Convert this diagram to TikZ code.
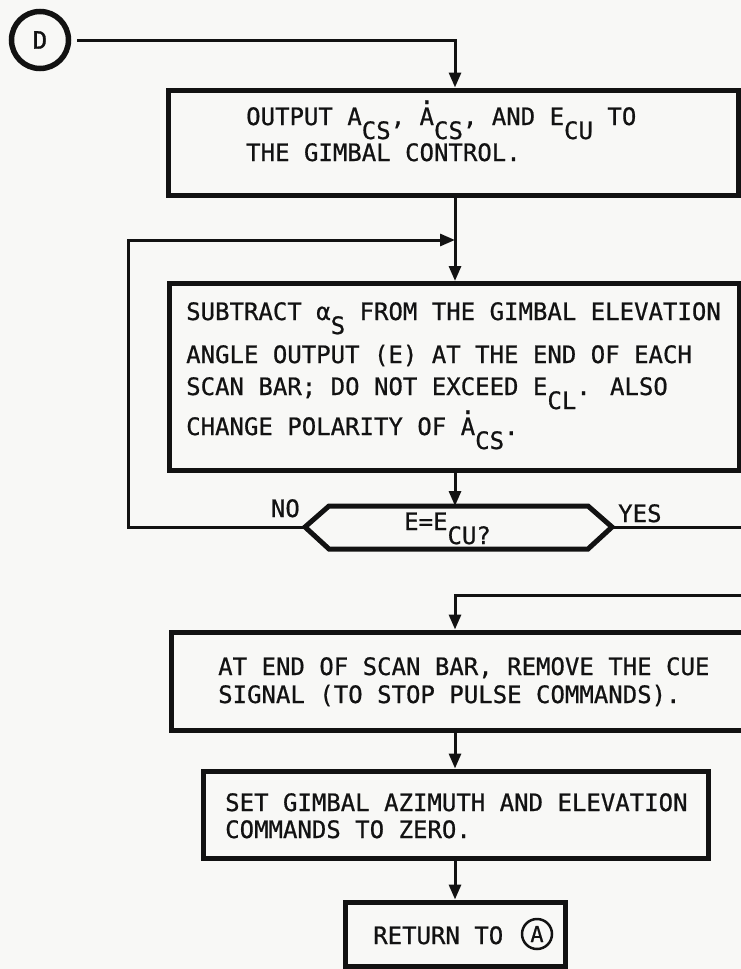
\documentclass[tikz,border=0pt]{standalone}
\usepackage{fontspec}
\newfontfamily\tw[FakeBold=0.7]{DejaVu Sans Mono}
\newfontfamily\twb[FakeBold=1.5]{DejaVu Sans Mono}
\usetikzlibrary{arrows.meta}
\definecolor{paper}{RGB}{248,248,246}
\definecolor{ink}{RGB}{18,18,18}
\newcommand\lo[1]{\raisebox{-14pt}{\smash{#1}}}
\newcommand\dotA{\rlap{\smash{\raisebox{21pt}{.}}}A}
\begin{document}
\begin{tikzpicture}[x=1pt,y=-1pt,
  boxline/.style={draw=ink, line width=5pt, inner sep=0pt},
  conn/.style={draw=ink, line width=3pt},
  arr/.style={conn, -{Triangle[length=15pt,width=12pt]}},
  txt/.style={anchor=base west, inner sep=0pt, text=ink,
    font=\tw\fontsize{24}{28}\selectfont},
  ring/.style={draw=ink, circle, inner sep=0pt, text=ink}]
\fill[paper] (0,0) rectangle (741,969);
\useasboundingbox (0,0) rectangle (741,969);
\coordinate (spine) at (455,0);
% connector D
\node[ring, line width=5.5pt, minimum size=57pt,
  font=\twb\fontsize{24}{26}\selectfont] (D) at (40,40) {D};
% boxes
\node[boxline, minimum width=570pt, minimum height=105pt] (b1) at (453,142.5) {};
\node[boxline, minimum width=570pt, minimum height=187pt] (b2) at (454,377) {};
\node[boxline, minimum width=579pt, minimum height=98pt] (b3) at (460.5,681) {};
\node[boxline, minimum width=505pt, minimum height=87pt] (b4) at (455.5,814.5) {};
\node[boxline, minimum width=220pt, minimum height=64pt] (b5) at (455,934) {};
% texts
\node[txt] (t11) at (246,125) {OUTPUT A\lo{CS}, \dotA\lo{CS}, AND E\lo{CU} TO};
\node[txt] (t12) at (246,161) {THE GIMBAL CONTROL.};
\node[txt] (t21) at (186,320) {SUBTRACT α\lo{S} FROM THE GIMBAL ELEVATION};
\node[txt] (t22) at (186,363) {ANGLE OUTPUT (E) AT THE END OF EACH};
\node[txt] (t23) at (186,395) {SCAN BAR; DO NOT EXCEED E\lo{CL}. ALSO};
\node[txt] (t24) at (186,435) {CHANGE POLARITY OF \dotA\lo{CS}.};
\node[txt] (t31) at (218,675) {AT END OF SCAN BAR, REMOVE THE CUE};
\node[txt] (t32) at (218,703) {SIGNAL (TO STOP PULSE COMMANDS).};
\node[txt] (t41) at (225,811) {SET GIMBAL AZIMUTH AND ELEVATION};
\node[txt] (t42) at (225,838) {COMMANDS TO ZERO.};
\node[txt] (t5) at (373,944) {RETURN TO};
\node[ring, line width=2.5pt, minimum size=30pt,
  font=\tw\fontsize{22}{24}\selectfont] (A) at (537,934) {A};
% decision
\coordinate (dl) at (305,527);
\coordinate (dr) at (612,527);
\coordinate (dtop) at (455,506);
\draw[ink, line width=5pt, line join=miter]
  (dl) -- (329,506) -- (588,506) -- (dr) -- (588,549) -- (329,549) -- cycle;
\node[txt] (tq) at (404,530) {E=E\lo{CU?}};
\node[txt, anchor=base east] (no) at (300,517) {NO};
\node[txt] (yes) at (618,522) {YES};
% loop and branch coordinates
\coordinate (loopb) at (128,527);
\coordinate (loopt) at (128,240);
\coordinate (join) at (455,240);
\coordinate (yesend) at (745,527);
\coordinate (retstart) at (745,595);
\coordinate (retturn) at (455,595);
% connectors
\draw[arr, shorten <=6pt] (D.east) -- (D.east -| spine) -- (b1.north -| spine);
\draw[arr] (b1.south -| spine) -- (b2.north -| spine);
\draw[arr] (dl) -- (loopb) -- (loopt) -- (join);
\draw[arr] (b2.south -| spine) -- (dtop);
\draw[conn] (dr) -- (yesend);
\draw[arr] (retstart) -- (retturn) -- (b3.north -| spine);
\draw[arr] (b3.south -| spine) -- (b4.north -| spine);
\draw[arr] (b4.south -| spine) -- (b5.north -| spine);
\end{tikzpicture}
\end{document}
